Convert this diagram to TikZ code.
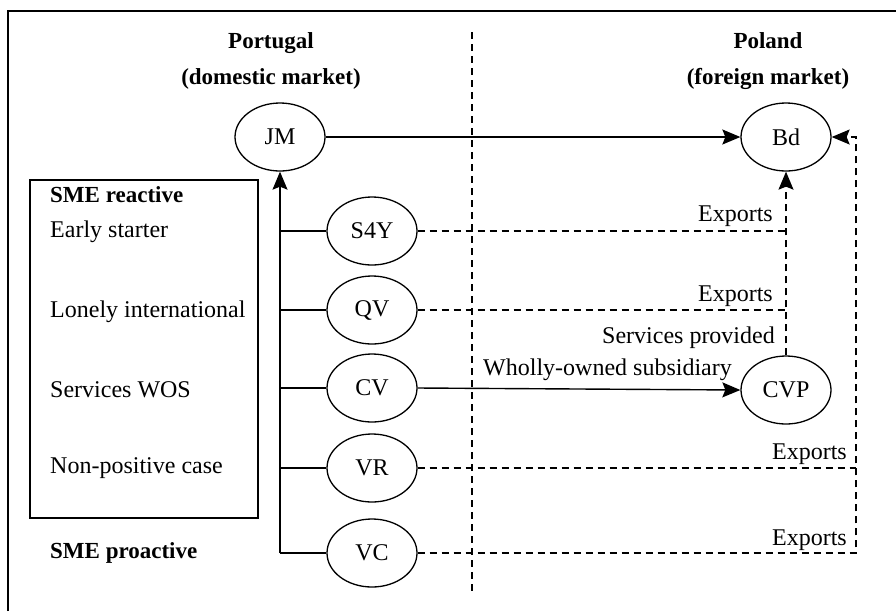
\documentclass[tikz,border=0pt]{standalone}
\usepackage{fontspec}
\setmainfont{Liberation Serif}
\usetikzlibrary{arrows.meta,shapes.geometric}
\begin{document}
\begin{tikzpicture}[x=1pt,y=-1pt,
  every node/.style={font=\fontsize{24}{27}\selectfont},
  ell/.style={draw, ellipse, minimum width=90pt, minimum height=68pt, inner sep=0pt, line width=1.3pt},
  ln/.style={line width=1.4pt},
  dsh/.style={line width=1.4pt, dash pattern=on 7pt off 5pt},
  arr/.style={-{Stealth[length=18pt,width=15pt,inset=3pt]}},
  lbr/.style={inner sep=0pt, anchor=base east},
  lbl/.style={inner sep=0pt, anchor=base west},
  hdr/.style={inner sep=0pt, anchor=base, font=\fontsize{23}{26}\selectfont\bfseries},
]
\useasboundingbox (0,0) rectangle (896,611);
% frame (cropped)
\draw[line width=1.6pt] (8,611) -- (8,11) -- (896,11);
% headers
\node[hdr] (pt1) at (271,48) {Portugal};
\node[hdr] (pt2) at (271,84) {(domestic market)};
\node[hdr] (pl1) at (768,48) {Poland};
\node[hdr] (pl2) at (768,84) {(foreign market)};
% divider
\coordinate (dtop) at (472,32);
\coordinate (dbot) at (472,593);
\draw[dsh] (dtop) -- (dbot);
% left box
\draw[line width=1.4pt] (30,180) rectangle (258,518);
\node[lbl,font=\fontsize{23}{26}\selectfont\bfseries] (smer) at (50,202) {SME reactive};
\node[lbl] (es) at (50,237) {Early starter};
\node[lbl] (li) at (50,317) {Lonely international};
\node[lbl] (sw) at (50,397) {Services WOS};
\node[lbl] (np) at (50,473) {Non-positive case};
\node[lbl,font=\fontsize{23}{26}\selectfont\bfseries] (smep) at (50,558) {SME proactive};
% ellipses
\node[ell] (JM) at (280,137) {JM};
\node[ell] (Bd) at (786,137) {Bd};
\node[ell] (S4Y) at (372,231) {S4Y};
\node[ell] (QV) at (372,310) {QV};
\node[ell] (CV) at (372,388) {CV};
\node[ell] (VR) at (372,468) {VR};
\node[ell] (VC) at (372,553) {VC};
\node[ell] (CVP) at (786,390) {CVP};
% trunk
\coordinate (tb) at (280,553);
\draw[ln,arr] (tb) -- (JM.south);
\foreach \n in {S4Y,QV,CV,VR,VC}{\draw[ln] (JM.south |- \n) -- (\n.west);}
% JM -> Bd
\draw[ln,arr] (JM.east) -- (Bd.west);
% exports to Bd via CVP column
\draw[dsh] (S4Y.east) -- (S4Y -| CVP);
\draw[dsh] (QV.east) -- (QV -| CVP);
\draw[dsh,arr] (CVP.north) -- (Bd.south);
\draw[ln,arr] (CV.east) -- (CVP.west);
% right column
\coordinate (rx) at (856,137);
\draw[dsh] (VR.east) -- (VR -| rx);
\draw[dsh,arr] (VC.east) -- (VC -| rx) -- (rx) -- (Bd.east);
% labels
\node[lbr] (e1) at (773,221) {Exports};
\node[lbr] (e2) at (773,301) {Exports};
\node[lbr] (sp) at (775,343) {Services provided};
\node[lbl] (wo) at (483,375) {Wholly-owned subsidiary};
\node[lbr] (e3) at (847,459) {Exports};
\node[lbr] (e4) at (847,545) {Exports};
\end{tikzpicture}
\end{document}
